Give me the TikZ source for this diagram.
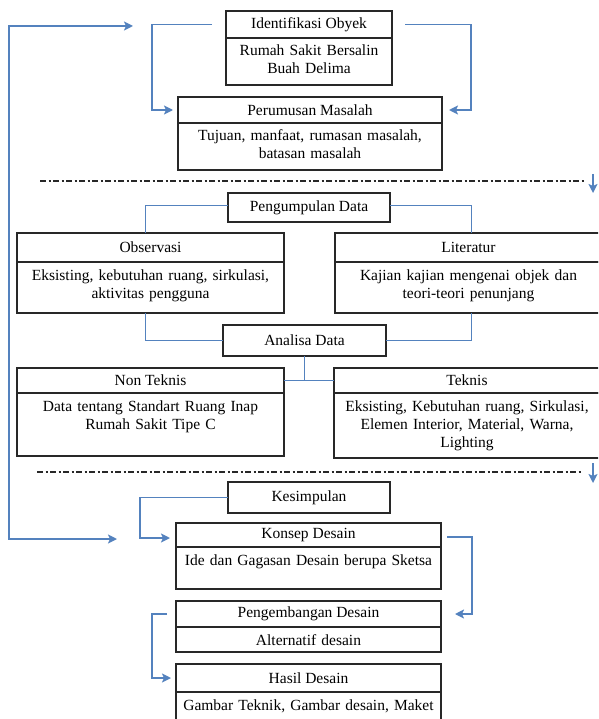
\documentclass[tikz,border=0pt]{standalone}
\usepackage{fontspec}
\setmainfont{Liberation Serif}
\usetikzlibrary{positioning, arrows.meta}
\definecolor{boxgray}{RGB}{40,40,40}
\definecolor{flowblue}{RGB}{84,130,190}

\begin{document}
\begin{tikzpicture}[x=1pt, y=-1pt, font=\fontsize{15.5}{18}\selectfont,
		hdr/.style={draw=boxgray, line width=1.7pt, outer sep=0pt, inner sep=0pt, anchor=north},
		bdy/.style={draw=boxgray, line width=1.7pt, outer sep=0pt, inner xsep=2pt, inner ysep=4pt, align=center, text height=14pt},
		flow/.style={draw=flowblue, line width=1.6pt},
		arr/.style={flow, -{Stealth[length=9pt, width=9pt, inset=2pt]}},
		twoarr/.style={flow, {Stealth[length=9pt, width=9pt, inset=2pt]}-{Stealth[length=9pt, width=9pt, inset=2pt]}},
		divline/.style={draw=boxgray, line width=1.6pt, dash pattern=on 6pt off 2.5pt on 2pt off 2.5pt}]
	\useasboundingbox (0,0) rectangle (598,719);
	\clip (0,0) rectangle (598,719);

	\node[hdr, minimum width=166pt, minimum height=27pt] (identH) at (309,11) {Identifikasi Obyek};
	\node[bdy, text width=162pt, text depth=25pt, below=0pt of identH] (identB) {Rumah Sakit Bersalin\\ Buah Delima};
	\node[hdr, minimum width=264pt, minimum height=26pt] (perumH) at (310,97) {Perumusan Masalah};
	\node[bdy, text width=260pt, text depth=25pt, below=0pt of perumH] (perumB) {Tujuan, manfaat, rumasan masalah,\\ batasan masalah};

	\node[hdr, minimum width=162pt, minimum height=29pt] (pengH) at (309,193) {Pengumpulan Data};
	\node[hdr, minimum width=267pt, minimum height=29pt] (obsH) at (150.5,233) {Observasi};
	\node[bdy, text width=263pt, text depth=29pt, below=0pt of obsH] (obsB) {Eksisting, kebutuhan ruang, sirkulasi,\\ aktivitas pengguna};
	\node[hdr, minimum width=267pt, minimum height=29pt] (litH) at (468.5,233) {Literatur};
	\node[bdy, text width=263pt, text depth=29pt, below=0pt of litH] (litB) {Kajian kajian mengenai objek dan\\ teori-teori penunjang};
	\node[hdr, minimum width=163pt, minimum height=31pt] (anaH) at (304.5,325) {Analisa Data};
	\node[hdr, minimum width=267pt, minimum height=25pt] (ntH) at (150.5,368) {Non Teknis};
	\node[bdy, text width=263pt, text depth=41pt, below=0pt of ntH] (ntB) {Data tentang Standart Ruang Inap\\ Rumah Sakit Tipe C};
	\node[hdr, minimum width=266pt, minimum height=25pt] (tkH) at (467,368) {Teknis};
	\node[bdy, text width=262pt, text depth=43pt, below=0pt of tkH] (tkB) {Eksisting, Kebutuhan ruang, Sirkulasi,\\ Elemen Interior, Material, Warna,\\ Lighting};

	\node[hdr, minimum width=162pt, minimum height=31pt] (kesH) at (309,482) {Kesimpulan};
	\node[hdr, minimum width=265pt, minimum height=24pt] (konH) at (308.5,523) {Konsep Desain};
	\node[bdy, text width=261pt, text depth=20pt, below=0pt of konH] (konB) {Ide dan Gagasan Desain berupa Sketsa};
	\node[hdr, minimum width=265pt, minimum height=26pt] (pgH) at (308.5,601) {Pengembangan Desain};
	\node[bdy, text width=261pt, text depth=3pt, below=0pt of pgH] (pgB) {Alternatif desain};
	\node[hdr, minimum width=265pt, minimum height=28pt] (hsH) at (308.5,664) {Hasil Desain};
	\node[bdy, text width=261pt, text depth=20pt, below=0pt of hsH] (hsB) {Gambar Teknik, Gambar desain, Maket};

	\coordinate (loopTop) at (133,26);
	\coordinate (loopBot) at (117,539);
	\draw[twoarr] (loopTop) -| ([xshift=-108pt]loopBot) -- (loopBot);
	\draw[arr] ([xshift=-14pt]identH.west) -- ++(-60,0) |- ([xshift=-5pt]perumH.west);
	\draw[arr] ([xshift=13pt]identH.east) -- ++(66,0) |- ([xshift=7pt]perumH.east);

	\draw[divline] (40,181) -- (584,181);
	\draw[arr] (593,174) -- (593,193);

	\draw[flow] ([yshift=2pt]pengH.west) -| ([xshift=-5pt]obsH.north);
	\draw[flow] ([yshift=2pt]pengH.east) -| ([xshift=3pt]litH.north);
	\draw[flow] ([xshift=-5pt]obsB.south) |- (anaH.west);
	\draw[flow] ([xshift=3pt]litB.south) |- (anaH.east);
	\draw[flow] (anaH.south) -- (anaH.south |- ntH.east);
	\draw[flow] (ntH.east) -- (tkH.west);

	\draw[divline] (37,472) -- (581,472);
	\draw[arr] (593,463) -- (593,483);

	\draw[arr] (kesH.west) -- ++(-88,0) |- ([xshift=-6pt, yshift=-3pt]konH.west);
	\draw[arr] ([xshift=6pt, yshift=-2pt]konH.east) -- ++(25,0) |- ([xshift=14pt]pgH.east);
	\draw[arr] ([xshift=-9pt]pgH.west) -- ++(-15,0) |- ([xshift=-5pt]hsH.west);
\end{tikzpicture}
\end{document}
